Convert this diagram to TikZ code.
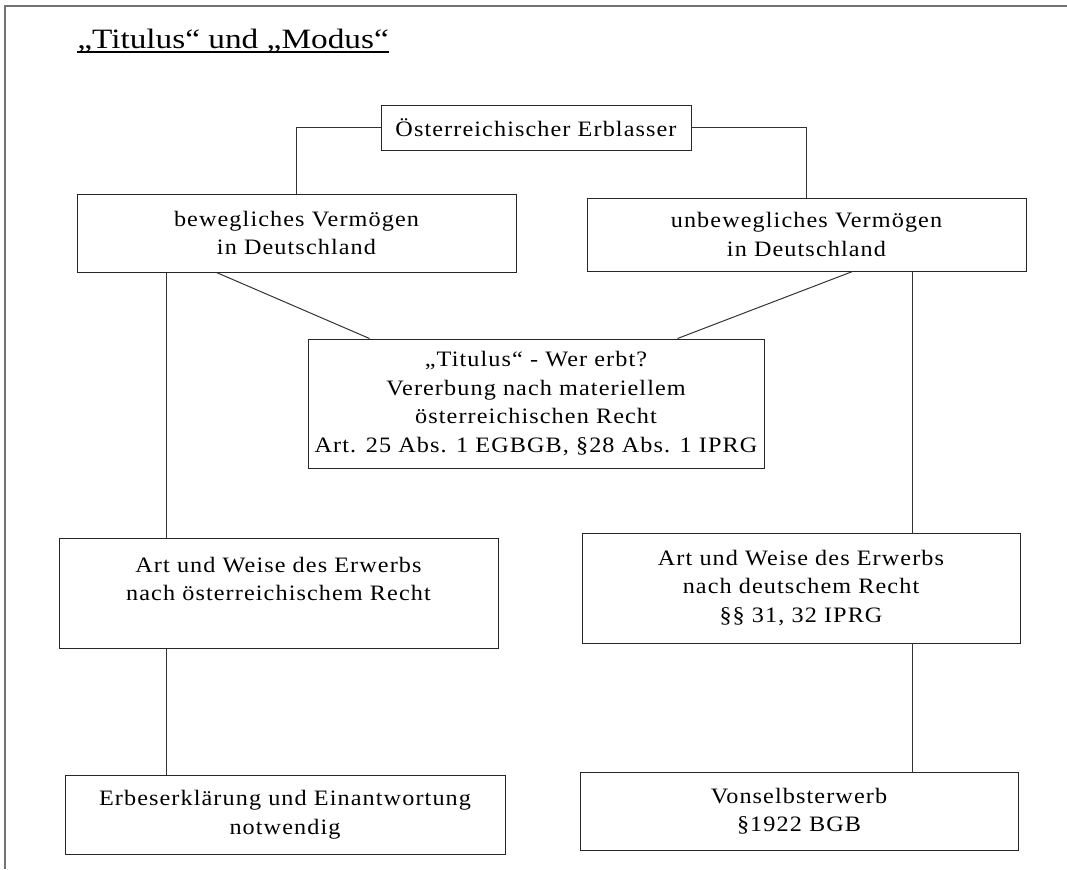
\documentclass[tikz,border=0pt]{standalone}
\usepackage{fontspec}
\setmainfont{Liberation Serif}
\newfontfamily\boxfont[FakeStretch=1.1,LetterSpace=5]{Liberation Serif}
\newfontfamily\titlefont[FakeStretch=1.19]{Liberation Serif}
\usetikzlibrary{calc}
\begin{document}
\begin{tikzpicture}[x=0.75pt,y=-0.75pt,
  box/.style={draw=black!85, line width=0.75pt, inner sep=0pt, align=center,
    font=\boxfont\fontsize{16.5pt}{21.4pt}\selectfont},
  bsz/.style 2 args={minimum width=#1*0.75pt, minimum height=#2*0.75pt},
  link/.style={draw=black!80, line width=0.75pt},
  frame/.style={draw=black!55, line width=1.5pt}]
\useasboundingbox (0,0) rectangle (1067,869);
\draw[frame] (5,869) -- (5,6) -- (1067,6);

\node[anchor=base west, inner sep=0pt, font=\titlefont\fontsize{21pt}{25pt}\selectfont] (title) at (77,48.5) {„Titulus“ und „Modus“};
\draw[line width=0.9pt] ($(title.base west)+(0,3.5)$) -- ($(title.base east)+(0,3.5)$);

\node[box, bsz={310}{45}] (top) at (536,127.5) {Österreichischer Erblasser};
\node[box, bsz={439}{78}] (bew) at (296.5,233) {bewegliches Vermögen\\in Deutschland};
\node[box, bsz={439}{73}] (unbew) at (806.5,234.5) {unbewegliches Vermögen\\in Deutschland};
\node[box, bsz={456}{129}] (tit) at (536,403.5) {„Titulus“ - Wer erbt?\\Vererbung nach materiellem\\österreichischen Recht\\Art. 25 Abs. 1 EGBGB, §28 Abs. 1 IPRG};
\node[box, bsz={439}{110}] (artL) at (278.5,593) {Art und Weise des Erwerbs\\nach österreichischem Recht\\\mbox{}};
\node[box, bsz={438}{110}] (artR) at (801,588) {Art und Weise des Erwerbs\\nach deutschem Recht\\§§ 31, 32 IPRG};
\node[box, bsz={440}{79}] (erb) at (285,814.5) {Erbeserklärung und Einantwortung\\notwendig};
\node[box, bsz={438}{78}] (von) at (799,811) {Vonselbsterwerb\\§1922 BGB};

\coordinate (xL) at (166.7,0);
\coordinate (xR) at (912,0);

\draw[link] (top.west) -| (bew.north);
\draw[link] (top.east) -| (unbew.north);
\draw[link] (bew.south -| xL) -- (artL.north -| xL);
\draw[link] (artL.south -| xL) -- (erb.north -| xL);
\draw[link] ($(bew.south west)+(140,0)$) -- ($(tit.north west)+(62,0)$);
\draw[link] ($(unbew.south west)+(266,0)$) -- ($(tit.north west)+(370,0)$);
\draw[link] (unbew.south -| xR) -- (artR.north -| xR);
\draw[link] (artR.south -| xR) -- (von.north -| xR);
\end{tikzpicture}
\end{document}
